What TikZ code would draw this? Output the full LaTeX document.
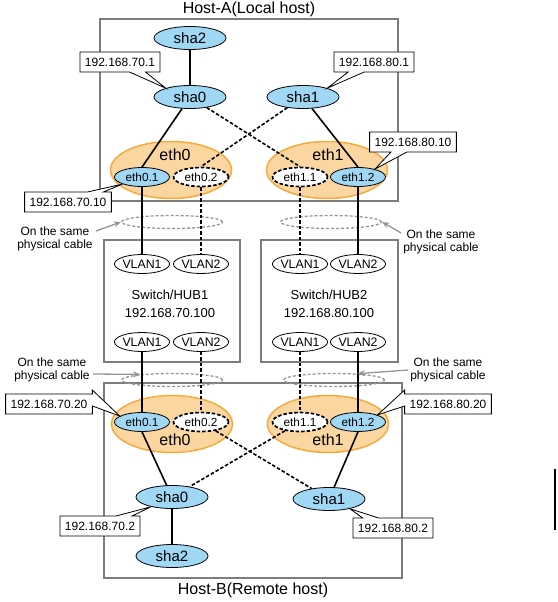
\documentclass[tikz,border=0pt]{standalone}
\usepackage{fontspec}
\setmainfont{Liberation Sans}
\usetikzlibrary{shapes.geometric,shapes.callouts,arrows.meta}
\definecolor{shablue}{RGB}{160,215,245}
\definecolor{ethfill}{RGB}{252,214,160}
\definecolor{ethline}{RGB}{245,170,60}
\definecolor{boxgray}{RGB}{125,125,125}
\definecolor{cablegray}{RGB}{150,150,150}
\tikzset{
    hostbox/.style={draw=boxgray, line width=1.3pt},
    title/.style={font=\fontsize{16}{18}\selectfont},
    sha/.style={ellipse, draw, line width=0.8pt, fill=shablue, inner sep=0pt, minimum width=72pt, minimum height=23pt, font=\fontsize{15}{15}\selectfont},
    nic/.style={ellipse, draw=ethline, fill=ethfill, line width=1.5pt, minimum width=121pt, minimum height=57pt},
    niclabel/.style={font=\fontsize{16}{16}\selectfont},
    vif/.style={ellipse, draw, line width=0.8pt, fill=shablue, inner sep=0pt, minimum width=55pt, minimum height=19pt, font=\fontsize{11.8}{12}\selectfont},
    vifdash/.style={vif, fill=white, line width=1.7pt, dash pattern=on 3.5pt off 2pt},
    vlan/.style={ellipse, draw, line width=0.8pt, inner sep=0pt, minimum width=52pt, minimum height=19pt, font=\fontsize{12.3}{12}\selectfont},
    swtext/.style={align=center, font=\fontsize{13}{18}\selectfont},
    cable/.style={ellipse, draw=cablegray, line width=1.3pt, dash pattern=on 3pt off 2pt, minimum width=101pt, minimum height=13pt, inner sep=0pt},
    note/.style={align=center, inner sep=0pt, font=\fontsize{12}{13.5}\selectfont},
    notearrow/.style={draw=cablegray, line width=1.3pt, -{Stealth[length=7pt,width=6pt]}},
    link/.style={line width=1.6pt},
    dlink/.style={line width=1.6pt, dash pattern=on 3.5pt off 2pt},
    ipbox/.style={rectangle callout, draw, line width=0.8pt, fill=white, inner xsep=5pt, inner ysep=0pt, minimum height=20pt, callout pointer width=16pt, font=\fontsize{12}{12}\selectfont},
}
\begin{document}
\begin{tikzpicture}[x=1pt,y=-1pt]
\useasboundingbox (0,0) rectangle (557,602);

% hosts and switches
\draw[hostbox] (100,19) rectangle (398,201);
\draw[hostbox] (104,383) rectangle (402,578);
\draw[hostbox] (104,240) rectangle (240,362);
\draw[hostbox] (261,240) rectangle (398,362);
\node[title] (titleA) at (249,9) {Host-A(Local host)};
\node[title] (titleB) at (253,590) {Host-B(Remote host)};

% Host-A
\node[nic] (nicA0) at (171,170) {};
\node[nic] (nicA1) at (327,170) {};
\node[niclabel] (lblA0) at (175,155) {eth0};
\node[niclabel] (lblA1) at (328,155) {eth1};
\node[vif] (vifA01) at (142,177) {eth0.1};
\node[vifdash] (vifA02) at (201,177) {eth0.2};
\node[vifdash] (vifA11) at (300,177) {eth1.1};
\node[vif] (vifA12) at (358,177) {eth1.2};
\node[sha] (shaA2) at (190,38) {sha2};
\node[sha] (shaA0) at (190,97) {sha0};
\node[sha] (shaA1) at (303,97) {sha1};
\draw[link] (shaA2) -- (shaA0);
\draw[link] (shaA0) -- (vifA01.north);
\draw[dlink] (shaA0) -- (vifA11.north);
\draw[dlink] (shaA1) -- (vifA02.north);
\draw[link] (shaA1) -- (vifA12.north);

% switches
\node[vlan] (vlanS11) at (142,264) {VLAN1};
\node[vlan] (vlanS12) at (201,264) {VLAN2};
\node[vlan] (vlanS13) at (142,342) {VLAN1};
\node[vlan] (vlanS14) at (201,342) {VLAN2};
\node[vlan] (vlanS21) at (300,264) {VLAN1};
\node[vlan] (vlanS22) at (358,264) {VLAN2};
\node[vlan] (vlanS23) at (300,342) {VLAN1};
\node[vlan] (vlanS24) at (358,342) {VLAN2};
\node[swtext] (sw1) at (170,304) {Switch/HUB1\\192.168.70.100};
\node[swtext] (sw2) at (329,304) {Switch/HUB2\\192.168.80.100};

% Host-B
\node[nic] (nicB0) at (172,424) {};
\node[nic] (nicB1) at (328,424) {};
\node[niclabel] (lblB0) at (175,440) {eth0};
\node[niclabel] (lblB1) at (328,440) {eth1};
\node[vif] (vifB01) at (142,422) {eth0.1};
\node[vifdash] (vifB02) at (201,422) {eth0.2};
\node[vifdash] (vifB11) at (300,422) {eth1.1};
\node[vif] (vifB12) at (358,422) {eth1.2};
\node[sha] (shaB0) at (172,497) {sha0};
\node[sha] (shaB1) at (329,499) {sha1};
\node[sha] (shaB2) at (172,556) {sha2};
\draw[link] (shaB0) -- (shaB2);
\draw[link] (vifB01.south) -- (shaB0);
\draw[dlink] (vifB02) -- (shaB1);
\draw[dlink] (vifB11) -- (shaB0);
\draw[link] (vifB12.south) -- (shaB1);

% physical cables
\node[cable] (cableA1) at (172,222) {};
\node[cable] (cableA2) at (331,222) {};
\node[cable] (cableB1) at (172,380) {};
\node[cable] (cableB2) at (334,380) {};
\draw[link] (vifA01) -- (vlanS11);
\draw[dlink] (vifA02) -- (vlanS12);
\draw[dlink] (vifA11) -- (vlanS21);
\draw[link] (vifA12) -- (vlanS22);
\draw[link] (vlanS13) -- (vifB01);
\draw[dlink] (vlanS14) -- (vifB02);
\draw[dlink] (vlanS23) -- (vifB11);
\draw[link] (vlanS24) -- (vifB12);
\node[note] (noteA1) at (55,239) {On the same\\physical cable};
\node[note] (noteA2) at (441,242) {On the same\\physical cable};
\node[note] (noteB1) at (52,370) {On the same\\physical cable};
\node[note] (noteB2) at (448,370) {On the same\\physical cable};
\draw[notearrow] ([xshift=3pt,yshift=8pt]noteA1.east) -- (cableA1.west);
\draw[notearrow] ([xshift=-2pt,yshift=9pt]noteA2.west) -- (cableA2.east);
\draw[notearrow] ([xshift=3pt,yshift=-4pt]noteB1.east) -- (cableB1.170);
\draw[notearrow] ([xshift=-2pt]noteB2.west) -- (cableB2.15);

% addresses
\node[ipbox, callout absolute pointer={(shaA0.160)}] (ipA0) at (120,62) {192.168.70.1};
\node[ipbox, callout absolute pointer={(shaA1.20)}] (ipA1) at (374,62) {192.168.80.1};
\node[ipbox, callout absolute pointer={(vifA01.200)}] (ipA01) at (68,202) {192.168.70.10};
\node[ipbox, callout absolute pointer={(vifA12.25)}] (ipA12) at (413,142) {192.168.80.10};
\node[ipbox, callout absolute pointer={(vifB01.165)}] (ipB01) at (49,404) {192.168.70.20};
\node[ipbox, callout absolute pointer={(vifB12.20)}] (ipB12) at (448,404) {192.168.80.20};
\node[ipbox, callout absolute pointer={(shaB0.205)}] (ipB0) at (100,526) {192.168.70.2};
\node[ipbox, callout absolute pointer={(shaB1.335)}] (ipB1) at (393,528) {192.168.80.2};

\draw[line width=2pt] (555,469) -- (555,530);
\end{tikzpicture}
\end{document}
